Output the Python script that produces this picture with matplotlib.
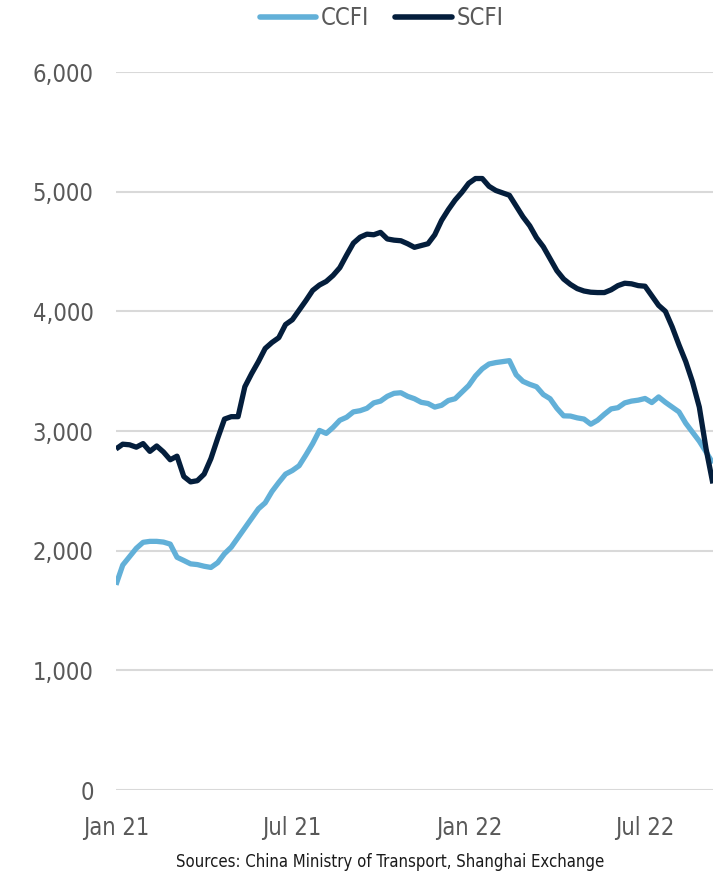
import matplotlib
matplotlib.use("Agg")
import matplotlib.pyplot as plt
import matplotlib.dates as mdates
import pandas as pd

# weekly index values, 1 Jan 2021 .. 9 Sep 2022
dates = pd.date_range("2021-01-01", periods=89, freq="7D")

scfi = [2850, 2890, 2885, 2865, 2895, 2830, 2875, 2825, 2760, 2790,
        2620, 2575, 2585, 2640, 2770, 2940, 3100, 3120, 3120, 3370,
        3480, 3580, 3690, 3740, 3780, 3890, 3930, 4010, 4090, 4175,
        4220, 4250, 4300, 4365, 4470, 4570, 4620, 4645, 4640, 4660,
        4605, 4595, 4590, 4565, 4535, 4550, 4565, 4640, 4760, 4850,
        4930, 4995, 5070, 5110, 5110, 5045, 5010, 4990, 4970, 4880,
        4790, 4715, 4615, 4540, 4440, 4340, 4270, 4225, 4190, 4170,
        4160, 4157, 4157, 4180, 4215, 4235, 4230, 4215, 4210, 4130,
        4050, 4000, 3870, 3720, 3580, 3410, 3200, 2850, 2562]

ccfi = [1715, 1880, 1950, 2020, 2070, 2078, 2078, 2072, 2055, 1945,
        1918, 1890, 1884, 1870, 1860, 1900, 1975, 2030, 2110, 2190,
        2270, 2350, 2400, 2495, 2570, 2640, 2670, 2710, 2800, 2895,
        3005, 2980, 3030, 3090, 3115, 3160, 3170, 3190, 3235, 3250,
        3290, 3315, 3320, 3290, 3270, 3240, 3230, 3200, 3215, 3255,
        3270, 3325, 3380, 3460, 3520, 3560, 3572, 3580, 3588, 3470,
        3415, 3390, 3370, 3305, 3270, 3190, 3127, 3125, 3110, 3100,
        3057, 3090, 3140, 3185, 3195, 3235, 3250, 3258, 3272, 3238,
        3285, 3240, 3200, 3160, 3065, 2990, 2915, 2825, 2730]

yticks = [0, 1000, 2000, 3000, 4000, 5000, 6000]
xticks = pd.to_datetime(["2021-01-01", "2021-07-01", "2022-01-01", "2022-07-01"])

plt.rcParams['font.family'] = ['DejaVu Sans']
plt.rcParams['font.stretch'] = 'condensed'

fig = plt.figure(figsize=(7.23, 8.75), dpi=100)
ax = fig.add_axes([0.1604, 0.0971, 0.8256, 0.8206])

ax.plot(dates, ccfi, color="#62b0d8", lw=3.8, label="CCFI", solid_capstyle="butt")
ax.plot(dates, scfi, color="#041e3c", lw=3.8, label="SCFI", solid_capstyle="butt")

ax.set_ylim(0, 6000)
ax.set_xlim(dates[0], dates[-1])
ax.set_yticks(yticks)
ax.set_yticklabels([f"{v:,}" for v in yticks])
ax.set_xticks(xticks)
ax.xaxis.set_major_formatter(mdates.DateFormatter("%b %y"))
ax.tick_params(length=0, labelsize=17, labelcolor="#595959")
ax.tick_params(axis="y", pad=16)
ax.tick_params(axis="x", pad=19)
ax.grid(axis="y", color="#d9d9d9", lw=1.5)
ax.set_axisbelow(True)
for s in ax.spines.values():
    s.set_visible(False)

leg = fig.legend(loc="center", bbox_to_anchor=(0.528, 0.979), ncol=2, frameon=False,
                 fontsize=17, handlelength=2.4, columnspacing=1.1, handletextpad=0.2)
for h in leg.get_lines():
    h.set_solid_capstyle("round")
    h.set_linewidth(4)
for t in leg.get_texts():
    t.set_color("#595959")

fig.text(0.54, 0.015, "Sources: China Ministry of Transport, Shanghai Exchange",
         ha="center", va="center", fontsize=12, color="#1a1a1a")

fig.savefig("out.png", dpi=100)
